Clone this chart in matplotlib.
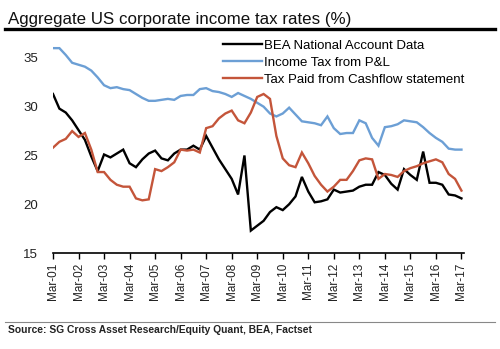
import matplotlib
matplotlib.use("Agg")
import matplotlib.pyplot as plt
from matplotlib.lines import Line2D

plt.rcParams['font.family'] = ['Liberation Sans', 'DejaVu Sans']

# Quarterly observations, Mar-01 .. Mar-17
tick_labels = ["Mar-01", "Mar-02", "Mar-03", "Mar-04", "Mar-05", "Mar-06", "Mar-07", "Mar-08",
               "Mar-09", "Mar-10", "Mar-11", "Mar-12", "Mar-13", "Mar-14", "Mar-15", "Mar-16", "Mar-17"]

bea = [31.3, 29.8, 29.4, 28.6, 27.6, 26.6, 24.9, 23.4, 25.1, 24.8, 25.2, 25.6, 24.2, 23.8, 24.6, 25.2,
       25.5, 24.7, 24.5, 25.2, 25.6, 25.6, 26.0, 25.6, 27.0, 25.8, 24.6, 23.6, 22.6, 21.0, 25.0, 17.3,
       17.8, 18.3, 19.2, 19.7, 19.4, 20.0, 20.8, 22.8, 21.3, 20.2, 20.3, 20.5, 21.5, 21.2, 21.3, 21.4,
       21.8, 22.0, 22.0, 23.3, 23.0, 22.1, 21.5, 23.6, 23.0, 22.5, 25.4, 22.2, 22.2, 22.0, 21.0, 20.9,
       20.6]

pnl = [36.0, 36.0, 35.3, 34.5, 34.3, 34.1, 33.7, 33.0, 32.2, 31.9, 32.0, 31.8, 31.7, 31.3, 30.9, 30.6,
       30.6, 30.7, 30.8, 30.7, 31.1, 31.2, 31.2, 31.8, 31.9, 31.6, 31.5, 31.3, 31.0, 31.4, 31.1, 30.8,
       30.4, 30.0, 29.3, 29.0, 29.3, 29.9, 29.2, 28.5, 28.4, 28.3, 28.1, 29.0, 27.8, 27.2, 27.3, 27.3,
       28.6, 28.3, 26.8, 26.0, 27.9, 28.0, 28.2, 28.6, 28.5, 28.4, 27.9, 27.3, 26.8, 26.4, 25.7, 25.6,
       25.6]

cashflow = [25.8, 26.4, 26.7, 27.5, 26.9, 27.3, 25.6, 23.3, 23.3, 22.5, 22.0, 21.8, 21.8, 20.6, 20.4, 20.5,
            23.6, 23.4, 23.8, 24.3, 25.6, 25.5, 25.6, 25.3, 27.8, 28.0, 28.8, 29.3, 29.6, 28.6, 28.3, 29.4,
            31.0, 31.3, 30.8, 27.0, 24.7, 24.0, 23.8, 25.3, 24.2, 22.9, 22.0, 21.3, 21.8, 22.5, 22.5, 23.4,
            24.5, 24.7, 24.6, 22.6, 23.1, 23.0, 22.8, 23.4, 23.7, 23.9, 24.2, 24.4, 24.6, 24.3, 23.1, 22.6,
            21.4]

series_names = ["BEA National Account Data", "Income Tax from P&L", "Tax Paid from Cashflow statement"]
colors = ["#000000", "#6c9fd5", "#c4553a"]

fig = plt.figure(figsize=(5.0, 3.49), dpi=100)
ax = fig.add_axes([0.106, 0.275, 0.822, 0.615])

x = list(range(len(bea)))
for vals, name, c in zip([bea, pnl, cashflow], series_names, colors):
    ax.plot(x, vals, color=c, lw=1.7, label=name, solid_joinstyle='miter')

ax.set_xlim(0, len(bea) - 0.6)
ax.set_ylim(15, 37)
ax.set_yticks([15, 20, 25, 30, 35])
ax.set_xticks([i * 4 for i in range(len(tick_labels))])
ax.set_xticklabels(tick_labels, rotation=90, fontsize=8.5, color="#222222")
ax.tick_params(axis='y', length=0, labelsize=9.5, pad=11, labelcolor="#222222")
ax.tick_params(axis='x', direction='out', length=4, width=1, pad=3)
for s in ['top', 'right', 'left']:
    ax.spines[s].set_visible(False)
ax.spines['bottom'].set_linewidth(1.2)

leg = ax.legend(loc='upper left', bbox_to_anchor=(0.40, 1.018), frameon=False, fontsize=9.5,
                handlelength=3.0, handletextpad=0.1, labelspacing=0.35, borderaxespad=0)

fig.text(0.016, 0.945, "Aggregate US corporate income tax rates (%)", fontsize=12.2, color="#111111",
         va='center', ha='left')
fig.add_artist(Line2D([0.01, 0.99], [0.917, 0.917], color='black', lw=2.4, transform=fig.transFigure))
fig.add_artist(Line2D([0.01, 0.99], [0.077, 0.077], color='#888888', lw=0.8, transform=fig.transFigure))
fig.text(0.016, 0.054, "Source: SG Cross Asset Research/Equity Quant, BEA, Factset", fontsize=7.4,
         fontweight='bold', color="#222222", va='center', ha='left')

fig.savefig("out.png", dpi=100)
